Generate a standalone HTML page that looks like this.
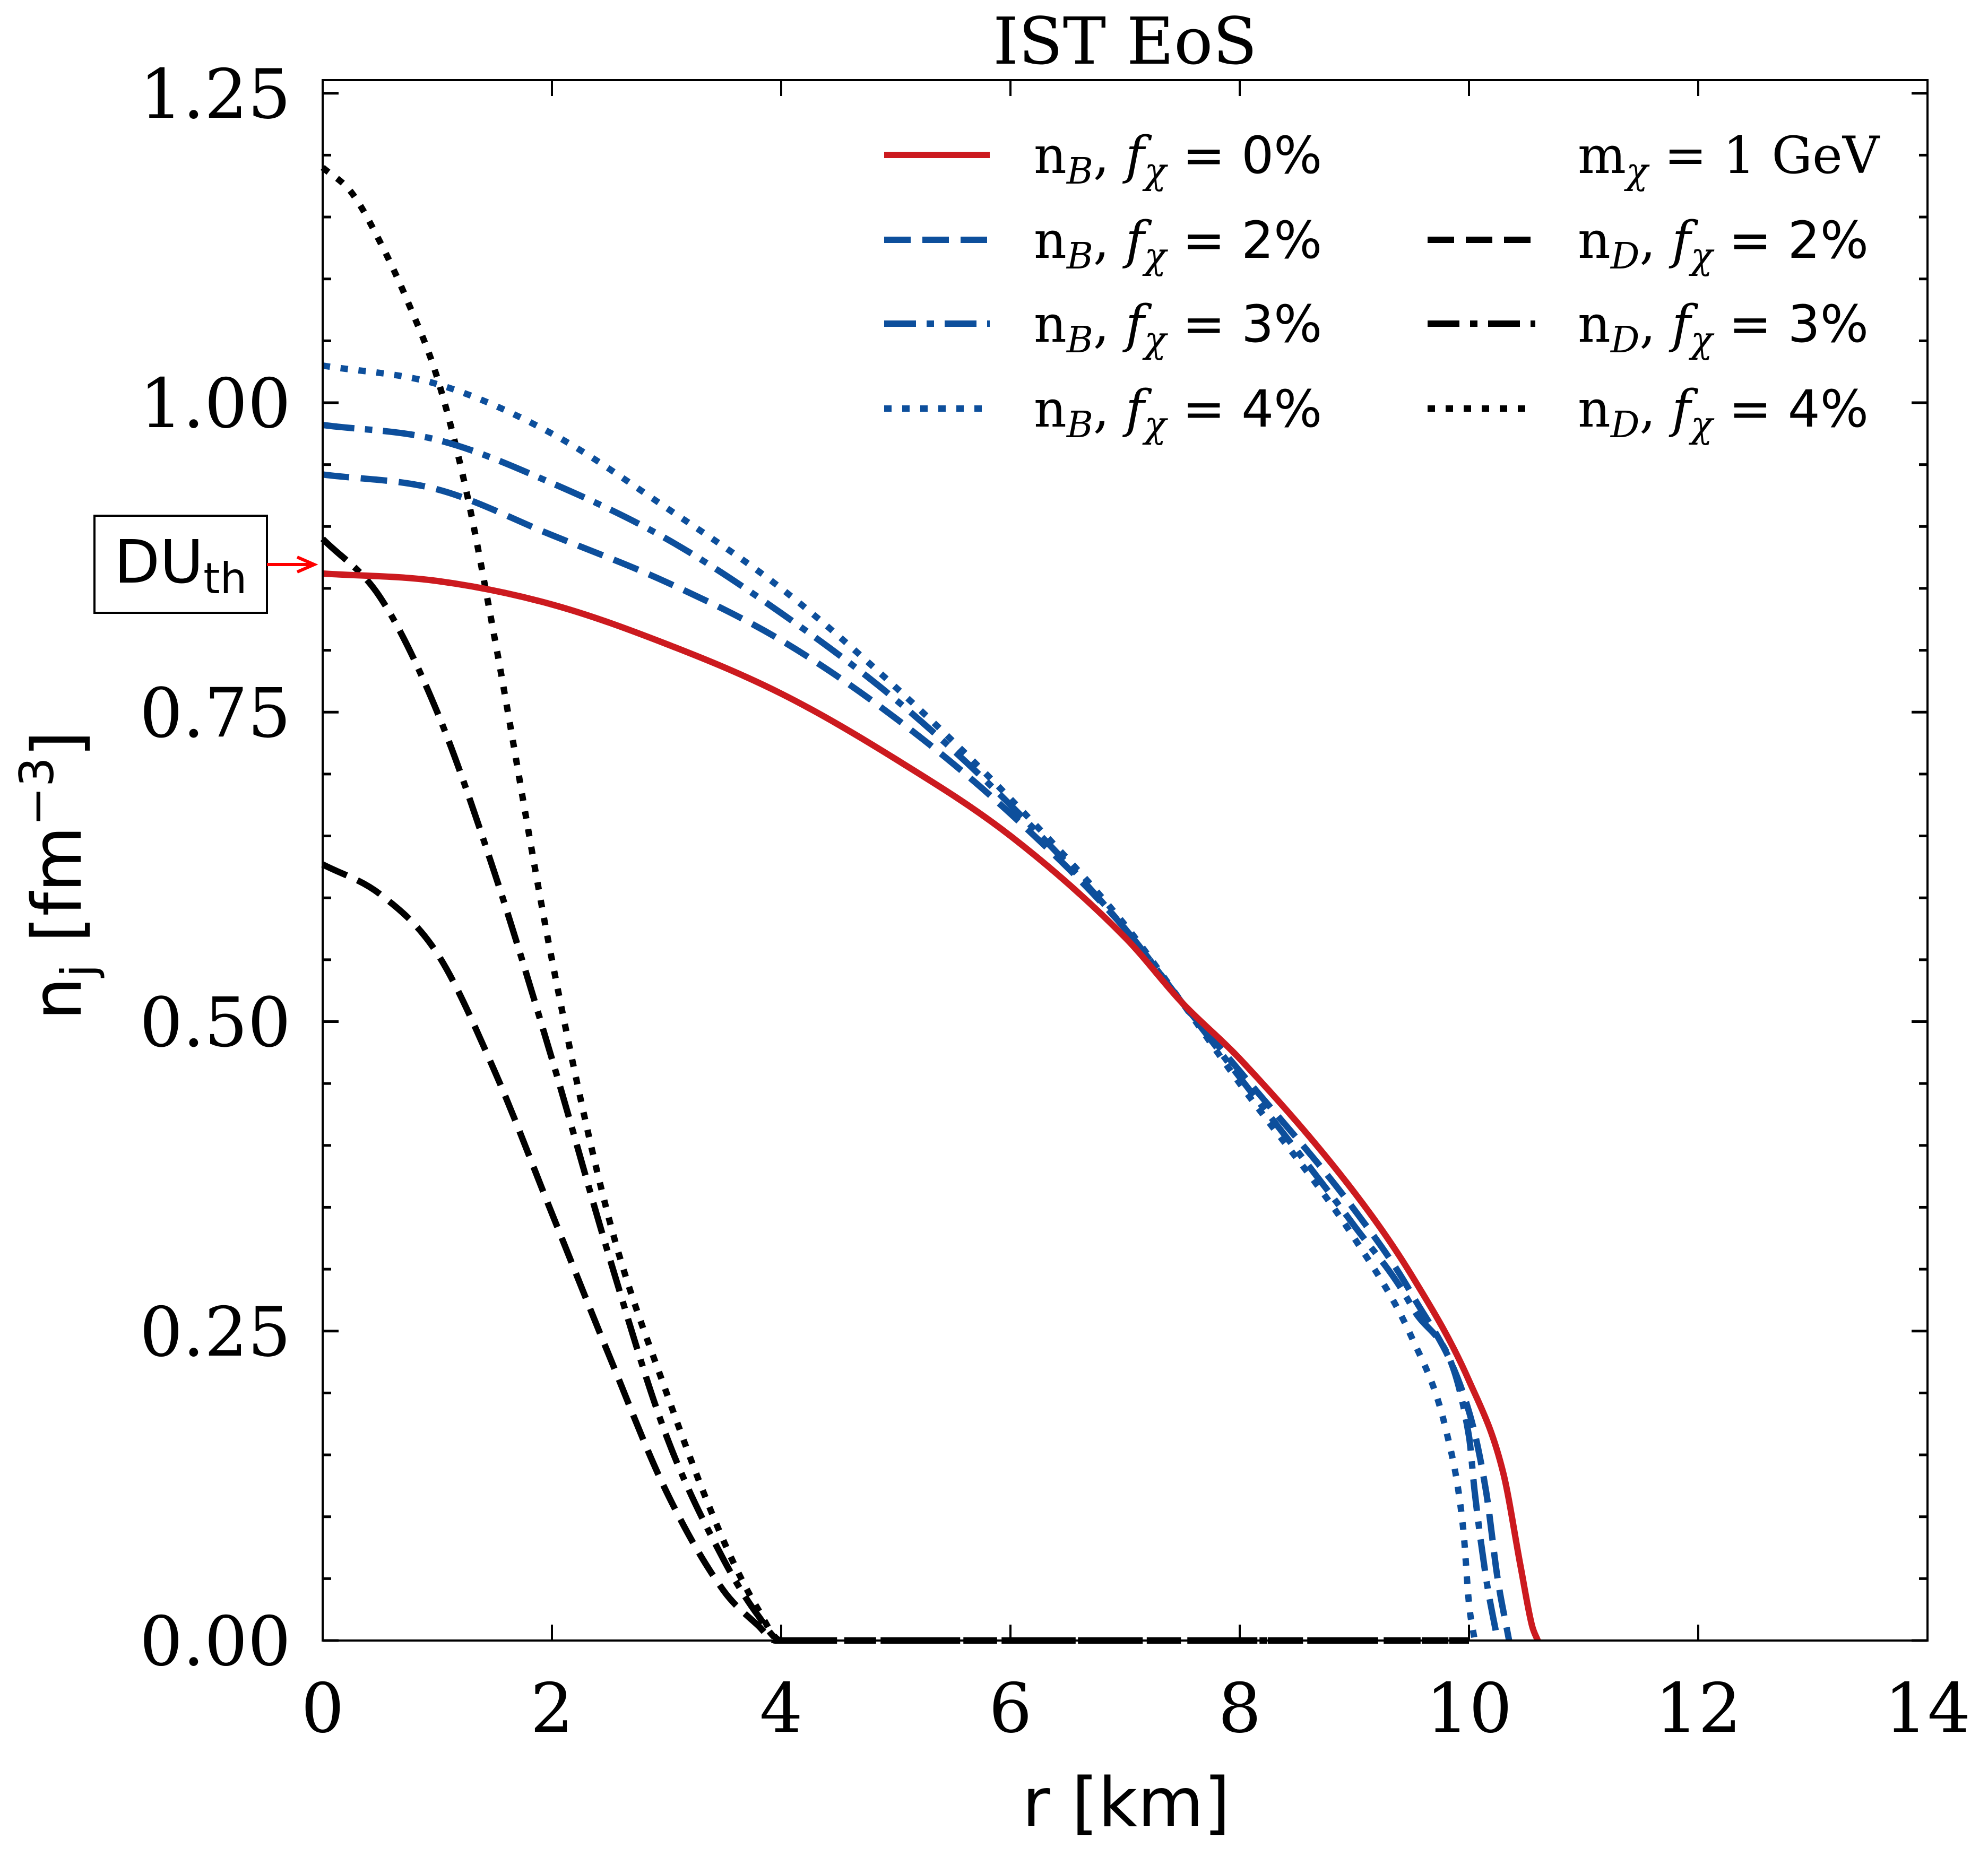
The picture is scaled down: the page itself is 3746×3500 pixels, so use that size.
<!DOCTYPE html>
<html><head><meta charset="utf-8"><style>
html,body{margin:0;padding:0;background:#fff;}
svg{display:block;}
text{fill:#000;}
.serif{font-family:"DejaVu Serif","Liberation Serif",serif;}
.sans{font-family:"DejaVu Sans","Liberation Sans",sans-serif;}
</style></head><body>
<svg id="chart" width="3746" height="3500" viewBox="0 0 3746 3500" xmlns="http://www.w3.org/2000/svg">
<rect x="0" y="0" width="3746" height="3500" fill="#fff"/>
<text class="serif" x="2120" y="120" font-size="122" text-anchor="middle">IST EoS</text>
<g id="marks"></g>
<g id="axes"></g>
<text class="sans" x="2122" y="3442" font-size="128" text-anchor="middle">r [km]</text>
<text class="sans" font-size="128" text-anchor="middle" transform="translate(152,1650) rotate(-90)">n<tspan font-size="88" dy="26">j</tspan><tspan dy="-26"> [fm</tspan><tspan font-size="88" dy="-52">−3</tspan><tspan dy="52">]</tspan></text>
<g>
<rect x="178" y="972" width="325" height="183" fill="#fff" stroke="#000" stroke-width="4"/>
<text class="sans" x="215" y="1098" font-size="112">DU<tspan font-size="80" dy="20">th</tspan></text>
<line x1="503" y1="1064" x2="585" y2="1064" stroke="#ff0000" stroke-width="6"/>
<path d="M560 1050 L592 1064 L560 1078" fill="none" stroke="#ff0000" stroke-width="6"/>
</g>
<g id="legend"></g>
</svg>
<script>
const xTicks=[0,2,4,6,8,10,12,14];
const yTicks=[0,0.25,0.5,0.75,1.0,1.25];
const yTickLabels=["0.00","0.25","0.50","0.75","1.00","1.25"];
const r_nB0=[0,1,2,3,4,5,6,7,7.5,8,9,9.5,10,10.3,10.45,10.55,10.6];
const v_nB0=[0.862,0.856,0.837,0.805,0.765,0.712,0.65,0.568,0.515,0.47,0.362,0.295,0.21,0.135,0.06,0.012,0];
const r_nB2=[0,1,2,3,4,5,6,7,7.5,8,9,9.5,10,10.15,10.25,10.35];
const v_nB2=[0.942,0.93,0.893,0.855,0.808,0.745,0.668,0.575,0.515,0.46,0.348,0.28,0.185,0.12,0.05,0];
const r_nB3=[0,1,2,3,4,5,6,7,7.5,8,9,9.5,10,10.05,10.15,10.25];
const v_nB3=[0.982,0.97,0.935,0.89,0.83,0.76,0.675,0.575,0.515,0.455,0.335,0.27,0.165,0.12,0.05,0];
const r_nB4=[0,1,2,3,4,5,6,7,7.5,8,9,9.5,9.8,9.95,10,10.05];
const v_nB4=[1.03,1.015,0.975,0.915,0.85,0.77,0.68,0.578,0.515,0.45,0.325,0.245,0.17,0.09,0.03,0];
const r_nD2=[0,0.5,1,1.5,2,2.5,3,3.5,3.8,3.95,10];
const v_nD2=[0.627,0.603,0.555,0.46,0.345,0.23,0.12,0.04,0.012,0,0];
const r_nD3=[0,0.5,1,1.5,2,2.5,3,3.5,3.8,4.0,10];
const v_nD3=[0.89,0.843,0.75,0.62,0.47,0.31,0.165,0.065,0.02,0,0];
const r_nD4=[0,0.25,0.5,0.75,1,1.25,1.5,2,2.5,3,3.5,3.8,4.0,10];
const v_nD4=[1.19,1.17,1.13,1.08,1.02,0.93,0.81,0.55,0.34,0.2,0.08,0.025,0,0];

const X0=608,XPK=216,Y0=3092,YPU=2333,TOP=151,RIGHT=X0+14*XPK;
function sx(v){return X0+v*XPK;}
function sy(v){return Y0-v*YPU;}
const NS="http://www.w3.org/2000/svg";
function mk(tag,attrs,parent){const e=document.createElementNS(NS,tag);for(const k in attrs)e.setAttribute(k,attrs[k]);parent.appendChild(e);return e;}
const BLUE="#0d4f9c",RED="#cc1a1f",BLK="#000";
const DASH="50,22",DASHDOT="60,20,14,20",DOT="14,20";
const LW=12;
const marks=document.getElementById('marks');
function monoPath(xs,ys){
  const n=xs.length,d=[],m=[];
  for(let i=0;i<n-1;i++)d.push((ys[i+1]-ys[i])/(xs[i+1]-xs[i]));
  m[0]=d[0];m[n-1]=d[n-2];
  for(let i=1;i<n-1;i++){m[i]=(d[i-1]*d[i]<=0)?0:(d[i-1]+d[i])/2;}
  for(let i=0;i<n-1;i++){if(d[i]===0){m[i]=0;m[i+1]=0;continue;}
    const a=m[i]/d[i],b=m[i+1]/d[i],s=a*a+b*b;if(s>9){const t=3/Math.sqrt(s);m[i]=t*a*d[i];m[i+1]=t*b*d[i];}}
  let p="M"+xs[0].toFixed(1)+" "+ys[0].toFixed(1);
  for(let i=0;i<n-1;i++){const h=(xs[i+1]-xs[i])/3;
    p+=" C"+(xs[i]+h).toFixed(1)+" "+(ys[i]+m[i]*h).toFixed(1)+" "+(xs[i+1]-h).toFixed(1)+" "+(ys[i+1]-m[i+1]*h).toFixed(1)+" "+xs[i+1].toFixed(1)+" "+ys[i+1].toFixed(1);}
  return p;
}
function series(rs,vs,color,dash,name){
  const d=monoPath(rs.map(sx),vs.map(sy));
  const p=mk('path',{d:d,fill:"none",stroke:color,"stroke-width":LW,"stroke-dasharray":dash||"none"},marks);
  
  
}
series(r_nD2,v_nD2,BLK,DASH,'nD-2pct-line');
series(r_nD3,v_nD3,BLK,DASHDOT,'nD-3pct-line');
series(r_nD4,v_nD4,BLK,DOT,'nD-4pct-line');
series(r_nB2,v_nB2,BLUE,DASH,'nB-2pct-line');
series(r_nB3,v_nB3,BLUE,DASHDOT,'nB-3pct-line');
series(r_nB4,v_nB4,BLUE,DOT,'nB-4pct-line');
series(r_nB0,v_nB0,RED,null,'nB-0pct-line');

const axes=document.getElementById('axes');
const frame=mk('rect',{x:X0,y:TOP,width:RIGHT-X0,height:Y0-TOP,fill:"none",stroke:"#000","stroke-width":4},axes);


xTicks.forEach(v=>{
  const x=sx(v);
  mk('line',{x1:x,y1:Y0,x2:x,y2:Y0-30,stroke:"#000","stroke-width":4},axes);
  mk('line',{x1:x,y1:TOP,x2:x,y2:TOP+30,stroke:"#000","stroke-width":4},axes);
  const t=mk('text',{x:x,y:3264,"font-size":128,"text-anchor":"middle",class:"serif"},axes);
  t.textContent=String(v);
  
  
});
yTicks.forEach((v,i)=>{
  const y=sy(v);
  mk('line',{x1:X0,y1:y,x2:X0+30,y2:y,stroke:"#000","stroke-width":5},axes);
  mk('line',{x1:RIGHT,y1:y,x2:RIGHT-30,y2:y,stroke:"#000","stroke-width":5},axes);
  const t=mk('text',{x:548,y:y+46,"font-size":128,"text-anchor":"end",class:"serif"},axes);
  t.textContent=yTickLabels[i];
  
  
});
for(let k=0;k<=25;k++){const v=k*0.05;if(k%5===0)continue;const y=sy(v);
  mk('line',{x1:X0,y1:y,x2:X0+16,y2:y,stroke:"#000","stroke-width":5},axes);
  mk('line',{x1:RIGHT,y1:y,x2:RIGHT-16,y2:y,stroke:"#000","stroke-width":5},axes);}

const legend=document.getElementById('legend');
function entry(x1,x2,tx,y,color,dash,sub,pct,name){
  const l=mk('line',{x1:x1,y1:y,x2:x2,y2:y,stroke:color,"stroke-width":LW,"stroke-dasharray":dash||"none"},legend);
  
  
  const t=mk('text',{x:tx,y:y+34,"font-size":96,class:"serif"},legend);
  t.innerHTML='n<tspan font-size="68" font-style="italic" dy="20">'+sub+'</tspan><tspan dy="-20">, </tspan><tspan font-style="italic">f</tspan><tspan font-size="68" font-style="italic" dy="20">χ</tspan><tspan dy="-20" class="sans" font-size="96"> = '+pct+'%</tspan>';
  
  
}
entry(1666,1865,1948,292,RED,null,'B',0,'legend-nB-0pct');
entry(1666,1865,1948,452,BLUE,DASH,'B',2,'legend-nB-2pct');
entry(1666,1865,1948,610,BLUE,DASHDOT,'B',3,'legend-nB-3pct');
entry(1666,1865,1948,770,BLUE,DOT,'B',4,'legend-nB-4pct');
entry(2690,2893,2973,452,BLK,DASH,'D',2,'legend-nD-2pct');
entry(2690,2893,2973,610,BLK,DASHDOT,'D',3,'legend-nD-3pct');
entry(2690,2893,2973,770,BLK,DOT,'D',4,'legend-nD-4pct');
const m=mk('text',{x:2973,y:326,"font-size":96,class:"serif"},legend);
m.innerHTML='m<tspan font-size="68" font-style="italic" dy="20">χ</tspan><tspan dy="-20"> = 1 GeV</tspan>';


</script>
</body></html>
